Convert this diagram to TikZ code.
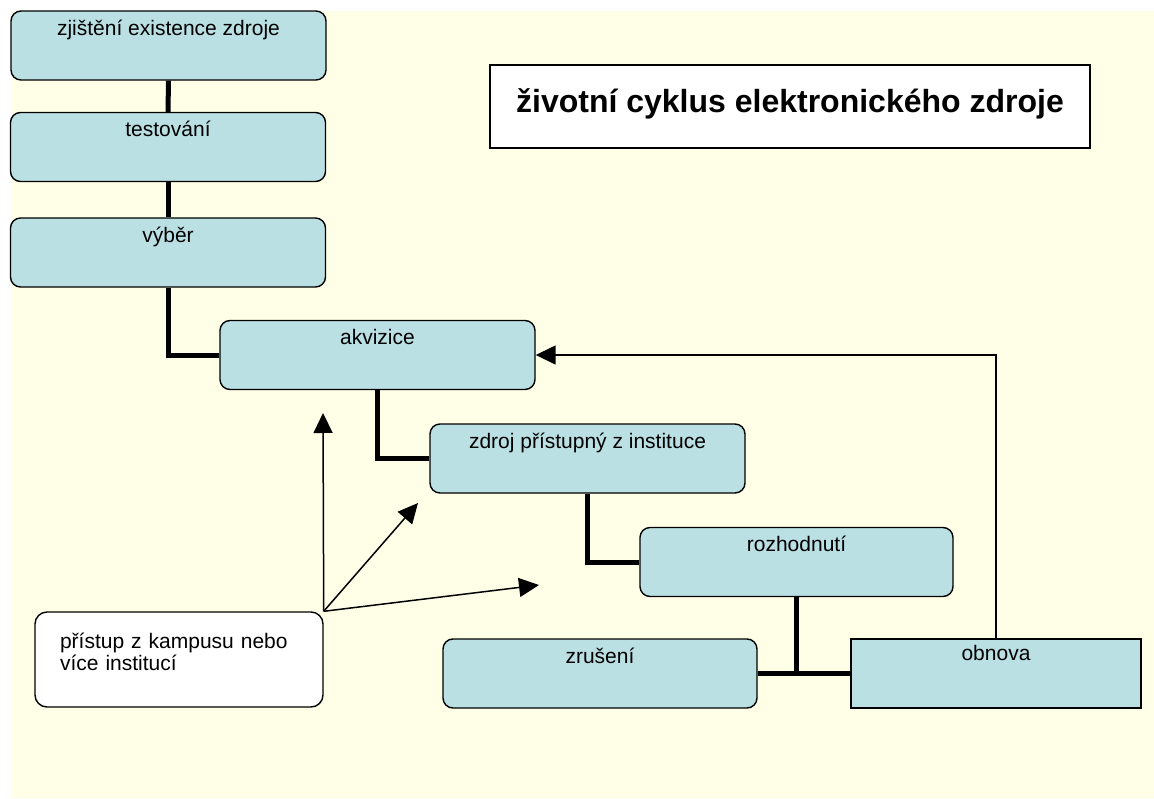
\documentclass[tikz,border=0pt]{standalone}
\usepackage{fontspec}
\setmainfont{Liberation Sans}
\usetikzlibrary{arrows.meta}
\definecolor{bgcream}{RGB}{255,255,232}
\definecolor{boxblue}{RGB}{186,224,228}
\tikzset{
  stage/.style={draw=black, line width=1.4pt, fill=boxblue, rounded corners=10pt,
    inner xsep=0pt, inner ysep=0pt, minimum width=315pt,
    text height=24pt, text depth=45pt, font=\fontsize{21}{24}\selectfont},
  link/.style={line width=5pt, draw=black},
  thin/.style={line width=1.5pt, draw=black},
  tip/.style={-{Triangle[length=20pt,width=19pt]}}
}
\begin{document}
\begin{tikzpicture}[x=1pt,y=-1pt]
\useasboundingbox (0,0) rectangle (1154,798);
\fill[bgcream] (11,11) rectangle (1154,798);

\node[stage] (zjis) at (168.5,45.5) {zjištění existence zdroje};
\node[stage] (test) at (168,147) {testování};
\node[stage] (vyber) at (168,252.5) {výběr};
\node[stage] (akv) at (377.5,355) {akvizice};
\node[stage] (zdroj) at (587.5,458.5) {zdroj přístupný z instituce};
\node[stage, minimum width=313pt] (rozh) at (796.5,562) {rozhodnutí};
\node[stage, minimum width=314pt] (zrus) at (600,673.5) {zrušení};
\node[stage, rounded corners=0pt, minimum width=290pt, text height=21pt, text depth=48pt] (obnova) at (996,673.5) {obnova};

\node[draw=black, line width=1.4pt, fill=white, rounded corners=12pt,
  inner xsep=25pt, inner ysep=0pt, text width=238pt, align=left,
  text height=36pt, text depth=59pt, font=\fontsize{21}{22}\selectfont]
  (pristup) at (179,659.5) {přístup z kampusu nebo\\více institucí};

\node[draw=black, line width=1.4pt, fill=white, inner sep=0pt,
  minimum width=600pt, text height=47pt, text depth=36pt,
  font=\fontsize{32}{36}\selectfont\bfseries]
  (title) at (790,106.5) {životní cyklus elektronického zdroje};

% thick connectors
\draw[link] (zjis.south) -- (test.north);
\draw[link] (test.south) -- (vyber.north);
\draw[link] (vyber.south) |- (akv.west);
\draw[link] (akv.south) |- (zdroj.west);
\draw[link] (zdroj.south) |- (rozh.west);
\draw[link] (zrus.east) -- (obnova.west);
\draw[link] (rozh.south) -- (rozh.south |- zrus.east);

% feedback arrow
\draw[thin, tip] (obnova.north) |- (akv.east);

% access arrows
\coordinate (a1) at (323,413);
\coordinate (a2) at (418,503);
\coordinate (a3) at (539,585);
\draw[thin, tip] (pristup.north east) -- (a1);
\draw[thin, tip] (pristup.north east) -- (a2);
\draw[thin, tip] (pristup.north east) -- (a3);
\end{tikzpicture}
\end{document}
